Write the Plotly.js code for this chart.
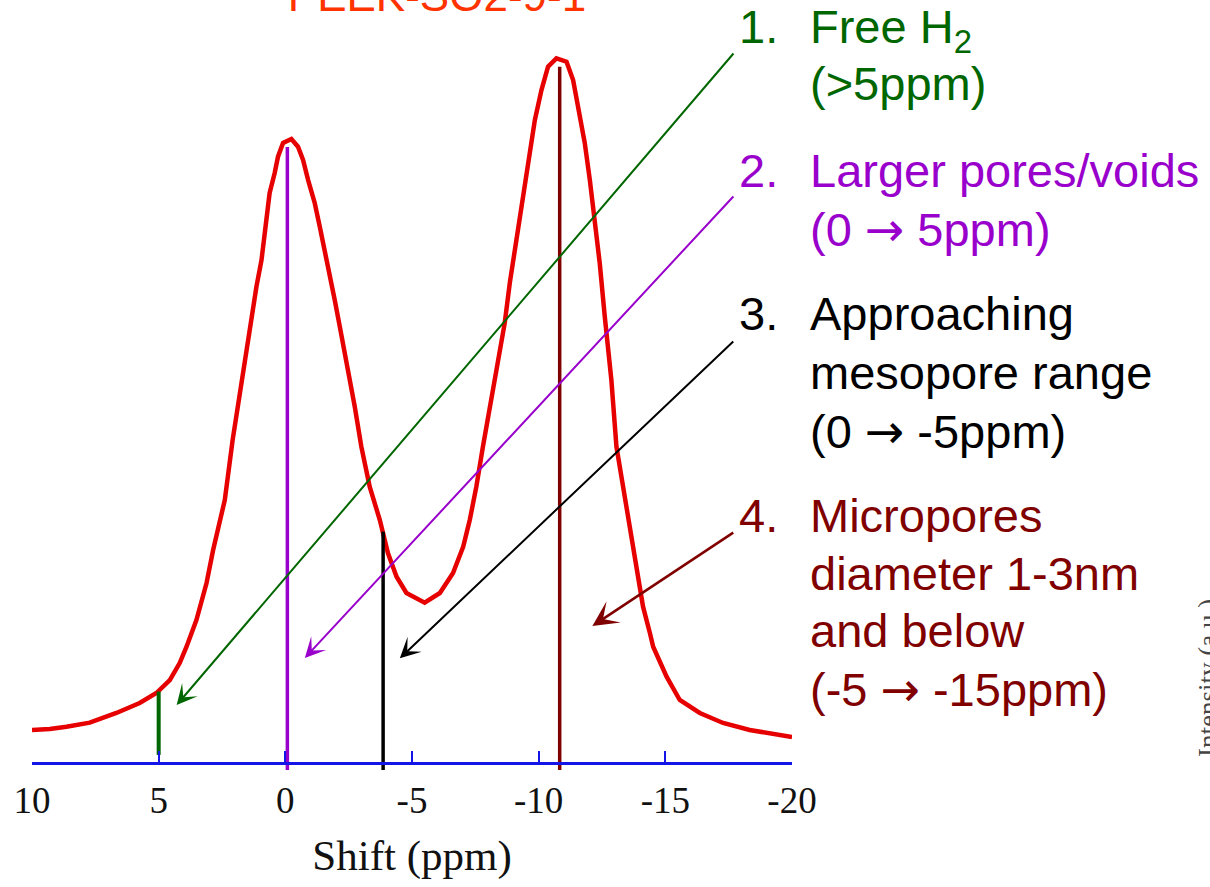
<!DOCTYPE html>
<html><head><meta charset="utf-8">
<script src="https://cdn.plot.ly/plotly-3.0.1.min.js"></script>
<style>html,body{margin:0;padding:0;background:#fff}#chart{width:1210px;height:887px}</style>
</head><body><div id="chart"></div>
<script>
// ---------- data ----------
const shiftPpm = [10.00, 9.30, 8.64, 7.72, 6.67, 5.75, 5.09, 4.56, 4.17, 3.90, 3.51, 3.11, 2.85, 2.59, 2.39, 2.08, 1.73, 1.54, 1.34, 1.14, 0.94, 0.77, 0.62, 0.42, 0.29, 0.09, -0.24, -0.50, -0.70, -0.90, -1.16, -1.36, -1.56, -1.75, -1.95, -2.15, -2.35, -2.61, -2.74, -3.00, -3.33, -3.73, -4.05, -4.39, -4.78, -5.50, -6.10, -6.62, -7.02, -7.28, -7.54, -7.80, -8.07, -8.27, -8.66, -8.86, -9.06, -9.25, -9.45, -9.65, -9.85, -10.11, -10.37, -10.70, -11.10, -11.36, -11.62, -11.82, -12.02, -12.22, -12.41, -12.61, -12.87, -13.07, -13.40, -13.73, -14.12, -14.39, -14.52, -15.05, -15.57, -16.36, -17.28, -18.33, -19.85, -20.00];
const intensity = [4.64, 4.78, 5.11, 5.68, 7.06, 8.48, 9.89, 11.74, 14.15, 16.47, 20.26, 25.51, 30.20, 34.45, 37.29, 45.81, 53.90, 59.06, 63.84, 67.58, 71.37, 76.09, 80.88, 83.72, 86.03, 87.98, 88.54, 87.45, 85.56, 82.72, 79.46, 76.09, 72.79, 69.52, 65.69, 61.90, 58.16, 53.38, 50.54, 44.86, 39.18, 34.45, 29.77, 26.41, 24.09, 22.71, 24.09, 26.93, 30.66, 34.45, 39.18, 44.86, 50.54, 54.33, 62.42, 68.10, 72.79, 77.51, 82.72, 86.98, 91.24, 95.50, 98.81, 100.00, 99.52, 96.92, 92.23, 87.98, 82.72, 76.62, 70.94, 63.32, 54.33, 44.86, 37.76, 30.66, 22.15, 18.41, 16.47, 12.21, 8.90, 7.06, 5.64, 4.64, 3.69, 3.65];

const markerShift = [5.0, -0.08, -3.86, -10.83];
const markerTop = [10.1, 87.4, 32.8, 98.8];
const markerBottom = [1.1, -1.04, -1.04, -1.04];

const tickValues = [10, 5, 0, -5, -10, -15, -20];
const tickLabels = ['10', '5', '0', '-5', '-10', '-15', '-20'];

const arrowHeadShift = [4.29, -0.77, -4.52, -12.12];
const arrowHeadIntensity = [8.19, 14.86, 14.82, 19.4];
const arrowTailShift = [-17.74, -17.74, -17.74, -17.74];
const arrowTailIntensity = [100.9, 80.6, 60.0, 32.8];

const labelNumbers = ['1.', '2.', '3.', '4.'];
const labelLines = [
  ['Free H<sub>2</sub>', '(&gt;5ppm)'],
  ['Larger pores/voids', '(0 → 5ppm)'],
  ['Approaching', 'mesopore range', '(0 → -5ppm)'],
  ['Micropores', 'diameter 1-3nm', 'and below', '(-5 → -15ppm)']
];
const chartTitle = 'PEEK-SO2-9-1';
const xTitle = 'Shift (ppm)';
const yTitle = 'Intensity (a.u.)';

// ---------- styles / layout ----------
const groupColors = ['#006600', '#9900cc', '#000000', '#800000'];
const markerWidths = [4, 3.5, 3.5, 3.5];
const arrowWidths = [2, 2, 2, 2.5];
const lineBaselines = [[42.7, 100], [186.7, 245], [330, 388.3, 446.7], [531.7, 590, 646.7, 705]];
const W = 1210, H = 887, ML = 32, MR = 418, MT = 20, MB = 107;
const PW = W - ML - MR, PH = H - MT - MB;
const yMin = -2.456, yMax = 105.44;
const pxX = px => (px - ML) / PW;
const pxY = py => (H - MB - py) / PH;
const SANS = 'Liberation Sans, Arial, sans-serif';
const SERIF = 'Liberation Serif, Times New Roman, serif';
const FS = 47;
const styleArrow = t => t.replace('→', '<span style="font-family:DejaVu Sans">→</span>');

const traces = [{
  type: 'scatter', mode: 'lines', x: shiftPpm, y: intensity,
  line: {color: '#e60000', width: 4.5}, hoverinfo: 'skip'
}];
markerShift.forEach((s, i) => {
  traces.push({
    type: 'scatter', mode: 'lines', x: [s, s], y: [markerBottom[i], markerTop[i]],
    line: {color: groupColors[i], width: markerWidths[i]}, hoverinfo: 'skip'
  });
});

const annotations = [];
arrowHeadShift.forEach((s, i) => {
  annotations.push({
    xref: 'x', yref: 'y', axref: 'x', ayref: 'y',
    x: s, y: arrowHeadIntensity[i], ax: arrowTailShift[i], ay: arrowTailIntensity[i],
    text: '', showarrow: true, arrowhead: 3, arrowsize: 1.7,
    arrowwidth: arrowWidths[i], arrowcolor: groupColors[i], standoff: 0
  });
});
const fontTop = b => b - 2 - 0.905 * FS;
labelNumbers.forEach((n, i) => {
  annotations.push({
    xref: 'paper', yref: 'paper', x: pxX(736.5), y: pxY(fontTop(lineBaselines[i][0])),
    xanchor: 'left', yanchor: 'top', text: n, showarrow: false,
    font: {family: SANS, size: FS, color: groupColors[i]}
  });
  labelLines[i].forEach((t, j) => {
    annotations.push({
      xref: 'paper', yref: 'paper', x: pxX(808), y: pxY(fontTop(lineBaselines[i][j])),
      xanchor: 'left', yanchor: 'top', text: styleArrow(t), showarrow: false,
      font: {family: SANS, size: FS, color: groupColors[i]}
    });
  });
});
annotations.push({
  xref: 'paper', yref: 'paper', x: pxX(1208), y: pxY(678),
  xanchor: 'center', yanchor: 'middle', text: yTitle, textangle: -90, showarrow: false,
  font: {family: SERIF, size: 27, color: '#444444'}
});

const layout = {
  width: W, height: H,
  margin: {l: ML, r: MR, t: MT, b: MB, pad: 0},
  paper_bgcolor: '#ffffff', plot_bgcolor: '#ffffff',
  showlegend: false,
  font: {family: SANS},
  title: {
    text: chartTitle, xref: 'container', yref: 'container',
    x: 437 / W, xanchor: 'center', y: 1 - 11 / H, yanchor: 'bottom',
    font: {family: SANS, size: 44, color: '#ff3300'}
  },
  xaxis: {
    range: [10, -20], autorange: false, anchor: 'free',
    position: (0 - yMin) / (yMax - yMin),
    showgrid: false, zeroline: false,
    showline: true, linecolor: '#1414e6', linewidth: 3.5,
    ticks: 'inside', ticklen: 11, tickwidth: 2, tickcolor: '#1414e6',
    tickmode: 'array', tickvals: tickValues, ticktext: tickLabels,
    tickfont: {family: SERIF, size: 37, color: '#111111'},
    ticklabelstandoff: 3,
    title: {text: xTitle, font: {family: SERIF, size: 43, color: '#111111'}, standoff: 20}
  },
  yaxis: {range: [yMin, yMax], autorange: false, visible: false, showgrid: false, zeroline: false},
  annotations: annotations
};

Plotly.newPlot('chart', traces, layout, {displayModeBar: false, staticPlot: true});
</script>
</body></html>
